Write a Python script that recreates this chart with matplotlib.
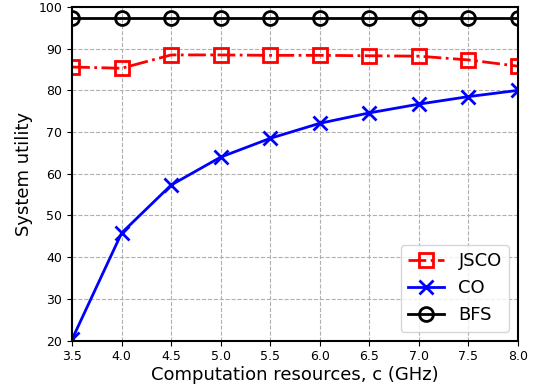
import matplotlib
matplotlib.use("Agg")
import matplotlib.pyplot as plt

c = [3.5, 4.0, 4.5, 5.0, 5.5, 6.0, 6.5, 7.0, 7.5, 8.0]
jsco = [85.6, 85.3, 88.5, 88.5, 88.4, 88.4, 88.3, 88.2, 87.3, 85.8]
co = [20.3, 45.8, 57.3, 64.0, 68.5, 72.1, 74.6, 76.7, 78.5, 80.0]
bfs = [97.4] * 10

fig = plt.figure(figsize=(5.34, 3.87), dpi=100)
ax = fig.add_axes([0.135, 0.12, 0.835, 0.862])
ax.plot(c, jsco, 'r-.s', lw=2, ms=10, mfc='none', mew=2, label='JSCO')
ax.plot(c, co, 'b-x', lw=2, ms=10, mew=2, label='CO')
ax.plot(c, bfs, 'k-o', lw=2, ms=10, mfc='none', mew=2, label='BFS')
ax.set_xlim(3.5, 8.0)
ax.set_ylim(20, 100)
ax.set_xticks(c)
ax.set_yticks(range(20, 101, 10))
ax.tick_params(labelsize=9)
ax.grid(True, ls='--', color='#b0b0b0')
ax.set_xlabel('Computation resources, c (GHz)', fontsize=13, labelpad=2)
ax.set_ylabel('System utility', fontsize=13)
ax.legend(loc='lower right', fontsize=13)
for s in ax.spines.values():
    s.set_linewidth(1.5)
fig.savefig('out.png', dpi=100)
